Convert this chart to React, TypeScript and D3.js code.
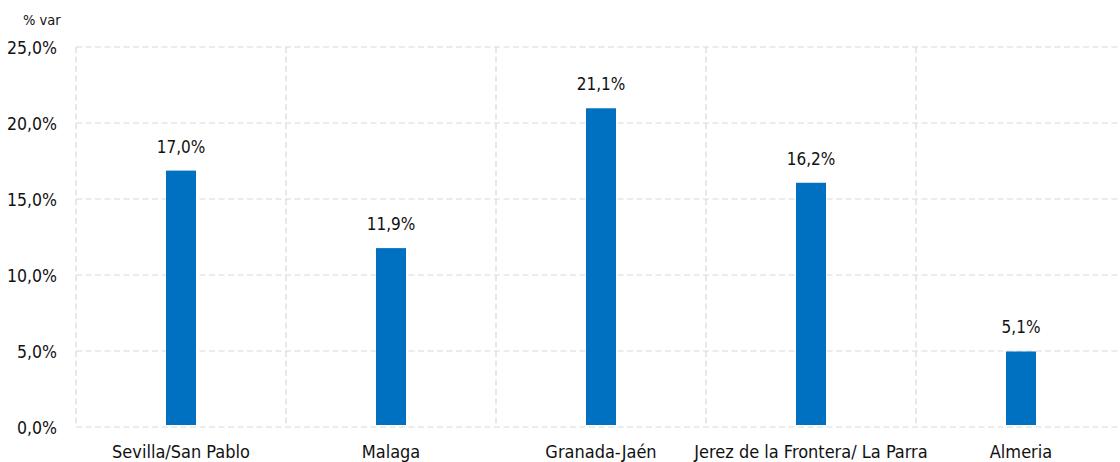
import { useRef, useEffect } from 'react';
import * as d3 from 'd3';

const categories = ['Sevilla/San Pablo', 'Malaga', 'Granada-Jaén', 'Jerez de la Frontera/ La Parra', 'Almeria'];
const values = [17.0, 11.9, 21.1, 16.2, 5.1];
const yTicks = [0, 5, 10, 15, 20, 25];

const W = 1120;
const H = 462;
const FONT = '"DejaVu Sans Condensed", "Liberation Sans", sans-serif';

const fmt = (v: number) => v.toFixed(1).replace('.', ',') + '%';

export default function App() {
  const svgRef = useRef<SVGSVGElement>(null);

  useEffect(() => {
    if (!svgRef.current) return;
    const svg = d3.select(svgRef.current);
    svg.selectAll('*').remove();

    const margin = { left: 76, top: 47, bottom: 35 };
    const plotBottom = H - margin.bottom;
    const step = 210;

    const x = d3.scaleBand().domain(categories)
      .range([margin.left, margin.left + step * categories.length]).padding(0);
    const y = d3.scaleLinear().domain([0, 25]).range([plotBottom, margin.top]);

    const g = svg.append('g');

    // horizontal gridlines
    g.selectAll('.hgrid').data(yTicks).join('line')
      .attr('x1', margin.left).attr('x2', W)
      .attr('y1', (d) => y(d)).attr('y2', (d) => y(d))
      .attr('stroke', '#d9d9d9').attr('stroke-width', 1.2).attr('stroke-dasharray', '6,3.5');

    // vertical gridlines at category boundaries
    g.selectAll('.vgrid').data(categories).join('line')
      .attr('x1', (d) => x(d) ?? 0).attr('x2', (d) => x(d) ?? 0)
      .attr('y1', margin.top).attr('y2', plotBottom)
      .attr('stroke', '#d9d9d9').attr('stroke-width', 1.2).attr('stroke-dasharray', '6,3.5');

    const barW = 30;
    g.selectAll('.bar').data(values).join('rect')
      .attr('x', (_, i) => (x(categories[i]) ?? 0) + x.bandwidth() / 2 - barW / 2)
      .attr('y', (d) => y(d) + 2)
      .attr('width', barW)
      .attr('height', (d) => y(0) - y(d) - 4)
      .attr('fill', '#0070c0');

    g.selectAll('.lbl').data(values).join('text')
      .attr('x', (_, i) => (x(categories[i]) ?? 0) + x.bandwidth() / 2)
      .attr('y', (d) => y(d) - 16)
      .attr('text-anchor', 'middle')
      .attr('font-family', FONT).attr('font-size', 17).attr('fill', '#111')
      .text((d) => fmt(d));

    // category labels
    g.selectAll('.cat').data(categories).join('text')
      .attr('x', (d) => (x(d) ?? 0) + x.bandwidth() / 2)
      .attr('y', plotBottom + 31)
      .attr('text-anchor', 'middle')
      .attr('font-family', FONT).attr('font-size', 18).attr('fill', '#111')
      .text((d) => d);

    // y tick labels
    g.selectAll('.ytick').data(yTicks).join('text')
      .attr('x', 57)
      .attr('y', (d) => y(d) + 7)
      .attr('text-anchor', 'end')
      .attr('font-family', FONT).attr('font-size', 17.5).attr('fill', '#111')
      .text((d) => fmt(d));

    g.append('text').attr('x', 23).attr('y', 25)
      .attr('font-family', FONT).attr('font-size', 14.5).attr('fill', '#111')
      .text('% var');
  }, []);

  return (
    <svg ref={svgRef} width={W} height={H}
      style={{ position: 'absolute', left: 0, top: 0, background: '#fff' }} />
  );
}
